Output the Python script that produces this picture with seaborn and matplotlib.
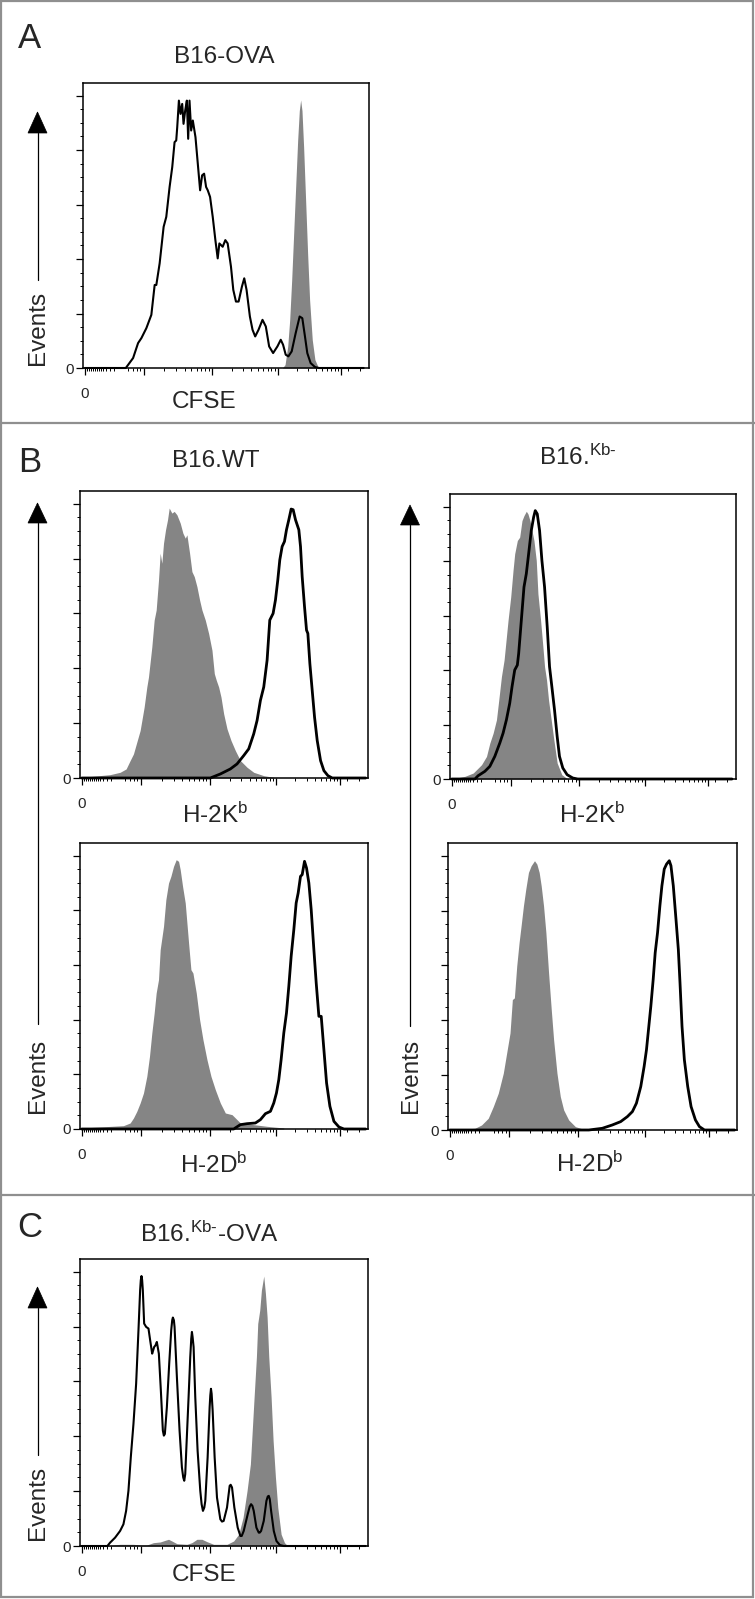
import numpy as np
import seaborn as sns
import matplotlib.pyplot as plt
from matplotlib.patches import Polygon, Rectangle

# ---- data: x = fluorescence channel, y = events ----
# Panel A, B16-OVA (CFSE)
a_black_x = [6, 129, 151, 166, 176, 191, 206, 216, 221, 231, 243, 251, 261, 269, 276, 281, 284, 289, 294,
             299, 303, 308, 313, 317, 321, 326, 331, 339, 346, 353, 359, 365, 371, 376, 383, 391, 399, 406,
             411, 421, 429, 436, 446, 453, 461, 469, 479, 486, 493, 503, 511, 519, 529, 541, 551, 561, 573,
             586, 596, 603, 611, 619, 629, 641, 653, 661, 669, 676, 686, 699, 711, 846]
a_black_y = [0, 0, 30, 75, 90, 120, 160, 250, 250, 315, 425, 455, 545, 605, 680, 685, 725, 805, 765,
             795, 735, 775, 805, 690, 805, 715, 745, 695, 615, 535, 580, 585, 545, 535, 515, 455, 385, 330,
             375, 365, 385, 375, 305, 235, 200, 200, 245, 270, 235, 155, 115, 95, 115, 145, 125, 65, 45,
             65, 85, 70, 40, 35, 50, 105, 155, 150, 95, 45, 15, 3, 0, 0]
a_gray_x = [601, 609, 617, 623, 629, 635, 641, 647, 652, 656, 660, 665, 671, 677, 683, 691, 699, 709, 719]
a_gray_y = [0, 10, 65, 145, 265, 405, 545, 685, 775, 807, 775, 665, 505, 345, 205, 85, 25, 2, 0]

# Panel B, B16.WT, H-2Kb
bwk_gray_x = [5, 90, 120, 138, 150, 160, 170, 180, 192, 200, 205, 215, 222, 228, 235, 240, 245, 250, 256,
              262, 267, 275, 282, 290, 300, 308, 315, 320, 328, 335, 342, 350, 358, 365, 375, 385, 395,
              402, 408, 415, 422, 430, 440, 452, 465, 480, 500, 520, 550, 580]
bwk_gray_y = [2, 10, 17, 27, 52, 72, 107, 142, 212, 272, 302, 392, 472, 502, 592, 672, 642, 702, 742,
              772, 807, 792, 797, 787, 762, 732, 717, 727, 672, 617, 602, 572, 532, 502, 472, 432, 382,
              312, 292, 272, 242, 192, 147, 112, 82, 52, 32, 17, 7, 2]
bwk_black_x = [5, 390, 420, 450, 470, 490, 505, 520, 530, 540, 550, 560, 568, 578, 585, 592, 598, 605, 612,
               618, 625, 632, 638, 645, 655, 660, 665, 672, 678, 682, 688, 695, 702, 710, 720, 730, 742,
               755, 855]
bwk_black_y = [0, 0, 12, 27, 42, 67, 87, 132, 172, 232, 272, 352, 472, 492, 532, 592, 652, 692, 707,
               742, 772, 804, 802, 772, 742, 692, 602, 512, 442, 432, 342, 262, 182, 112, 52, 22, 7, 0, 0]

# Panel B, B16.WT, H-2Db
bwd_gray_x = [5, 130, 150, 160, 170, 180, 190, 200, 208, 215, 222, 228, 235, 240, 250, 257, 265, 272, 280,
              288, 295, 300, 307, 315, 325, 332, 338, 348, 358, 368, 380, 392, 405, 420, 435, 455, 465,
              480, 520, 560, 610]
bwd_gray_y = [3, 10, 18, 33, 53, 78, 108, 158, 218, 288, 348, 408, 448, 538, 608, 688, 738, 758, 788,
              808, 803, 778, 728, 678, 558, 478, 468, 408, 328, 268, 208, 158, 118, 78, 48, 43, 33,
              18, 13, 8, 3]
bwd_black_x = [5, 460, 480, 500, 525, 540, 555, 570, 580, 588, 595, 602, 610, 618, 625, 632, 640, 647, 653,
               660, 665, 672, 678, 685, 692, 700, 707, 715, 722, 730, 738, 748, 760, 775, 790, 855]
bwd_black_y = [0, 0, 13, 16, 18, 28, 46, 53, 78, 108, 148, 208, 288, 348, 428, 518, 598, 678, 708,
               758, 763, 803, 783, 738, 658, 538, 438, 338, 338, 238, 138, 68, 23, 6, 0, 0]

# Panel B, B16.Kb-, H-2Kb
bkk_gray_x = [5, 45, 70, 95, 110, 120, 130, 140, 147, 155, 163, 167, 175, 183, 190, 195, 203, 210, 217,
              223, 230, 235, 241, 247, 253, 260, 265, 273, 280, 285, 291, 297, 305, 313, 323, 337, 355]
bkk_gray_y = [0, 8, 18, 43, 68, 108, 138, 178, 238, 308, 358, 398, 478, 548, 628, 678, 718, 728, 778,
              793, 806, 798, 778, 748, 718, 658, 558, 478, 398, 338, 298, 238, 178, 118, 48, 13, 0]
bkk_black_x = [5, 75, 85, 105, 120, 135, 150, 160, 170, 180, 187, 195, 203, 207, 215, 223, 230, 237, 245,
               252, 257, 263, 270, 277, 285, 293, 300, 307, 315, 323, 330, 340, 353, 370, 385, 850]
bkk_black_y = [0, 0, 10, 23, 38, 68, 108, 138, 178, 228, 278, 328, 343, 378, 478, 578, 618, 678, 748,
               788, 808, 798, 748, 658, 578, 458, 338, 278, 208, 128, 68, 33, 13, 3, 0, 0]

# Panel B, B16.Kb-, H-2Db
bkd_gray_x = [5, 80, 100, 120, 135, 150, 165, 175, 185, 192, 198, 205, 212, 218, 225, 232, 240, 248, 258,
              265, 272, 278, 285, 292, 300, 308, 315, 325, 335, 345, 360, 380, 405, 420]
bkd_gray_y = [0, 5, 15, 35, 70, 110, 170, 230, 290, 390, 395, 490, 560, 610, 670, 720, 770, 790, 805,
              795, 770, 730, 670, 590, 470, 360, 270, 170, 100, 60, 30, 10, 2, 0]
bkd_black_x = [5, 420, 460, 490, 515, 535, 550, 562, 575, 585, 592, 598, 605, 612, 618, 625, 632, 638, 645,
               652, 660, 665, 672, 680, 687, 692, 698, 705, 715, 725, 738, 750, 765, 855]
bkd_black_y = [0, 0, 5, 15, 25, 40, 55, 80, 130, 190, 240, 300, 370, 450, 530, 590, 670, 730, 780,
               795, 805, 790, 730, 630, 540, 440, 310, 210, 130, 70, 30, 10, 0, 0]

# Panel C, B16.Kb--OVA (CFSE)
c_black_x = [5, 82, 90, 105, 120, 130, 138, 145, 152, 160, 168, 175, 180, 182, 184, 186, 188, 192, 198,
             205, 210, 216, 219, 222, 226, 230, 236, 242, 248, 251, 254, 260, 267, 273, 276, 278, 281,
             283, 290, 298, 305, 309, 312, 315, 318, 325, 330, 333, 335, 337, 340, 345, 352, 360, 364,
             368, 372, 375, 382, 388, 390, 392, 394, 397, 403, 410, 420, 425, 430, 440, 448, 451, 455,
             462, 472, 480, 484, 490, 502, 508, 512, 516, 520, 528, 535, 538, 542, 550, 558, 562, 565,
             568, 572, 580, 588, 598, 610, 855]
c_black_y = [0, 0, 10, 25, 45, 65, 105, 165, 265, 365, 485, 645, 765, 795, 807, 795, 765, 665, 655,
             650, 615, 575, 585, 595, 600, 610, 575, 465, 345, 330, 335, 415, 545, 645, 675, 683, 675,
             655, 505, 345, 235, 205, 195, 215, 285, 445, 565, 620, 640, 625, 595, 445, 285, 165, 125,
             105, 115, 135, 265, 415, 450, 470, 455, 405, 265, 145, 80, 73, 75, 115, 180, 183, 175,
             115, 55, 30, 30, 45, 95, 118, 125, 120, 105, 55, 40, 40, 45, 75, 135, 148, 150,
             140, 105, 45, 15, 3, 0, 0]
c_gray_x = [5, 90, 120, 160, 180, 200, 220, 240, 255, 265, 275, 290, 320, 335, 350, 365, 380, 400, 440,
            460, 475, 488, 500, 510, 520, 528, 532, 538, 543, 550, 555, 560, 565, 572, 578, 585, 592,
            602, 612, 622]
c_gray_y = [0, 2, 5, 5, 3, 3, 10, 12, 17, 20, 15, 7, 5, 10, 20, 20, 13, 5, 5,
            15, 35, 85, 165, 245, 425, 565, 665, 705, 765, 807, 755, 685, 565, 445, 315, 205, 115,
            35, 10, 0]

x_major = [5, 183, 388, 587, 778]
x_major_labels = ['0', '', '', '', '']

GRAY = '#858585'
FRAME = '#8f8f8f'
W, H = 755, 1599
FS = 17.5

sns.set_style('white')
plt.rcParams['font.family'] = ['Liberation Sans', 'DejaVu Sans']
plt.rcParams['mathtext.fontset'] = 'custom'
plt.rcParams['mathtext.rm'] = 'Liberation Sans'
plt.rcParams['mathtext.it'] = 'Liberation Sans:italic'

fig = plt.figure(figsize=(W / 100, H / 100), dpi=100)

# overlay in pixel coordinates for frame, arrows and labels
over = fig.add_axes([0, 0, 1, 1])
over.set_xlim(0, W)
over.set_ylim(H, 0)
over.axis('off')


def add_axes_px(left, top, right, bottom):
    return fig.add_axes([left / W, 1 - bottom / H, (right - left) / W, (bottom - top) / H])


def minor_x():
    ticks = [12, 18, 24, 30, 36, 42, 48, 54, 60, 68, 80, 92, 136, 150, 162, 172]
    for a, b in zip(x_major[1:-1], x_major[2:]):
        ticks += [a + np.log10(m) * (b - a) for m in range(2, 10)]
    ticks += [800, 835]
    return ticks


def style(ax):
    ax.set_xlim(0, 862)
    ax.set_ylim(0, 858)
    ax.set_xticks(x_major)
    ax.set_xticklabels(x_major_labels)
    ax.set_xticks(minor_x(), minor=True)
    ax.set_yticks(np.arange(0, 821, 164))
    ax.set_yticklabels(['0', '', '', '', '', ''])
    ax.set_yticks(np.arange(0, 821, 41), minor=True)
    ax.tick_params(which='both', bottom=True, left=True, direction='out', color='black')
    ax.tick_params(which='major', length=5, width=0.9, labelsize=11)
    ax.tick_params(which='minor', length=2.5, width=0.7)
    ax.tick_params(axis='x', which='major', pad=9)
    ax.tick_params(axis='y', which='major', pad=1.5)
    for s in ax.spines.values():
        s.set_color('black')
        s.set_linewidth(1.1)
    ax.set_xlabel('')
    ax.set_ylabel('')


def histo(ax, gx, gy, bx, by, lw):
    ax.fill_between(gx, gy, 0, color=GRAY, lw=0, zorder=2)
    sns.lineplot(x=bx, y=by, ax=ax, color='black', lw=lw, estimator=None, sort=False, zorder=3)
    for ln in ax.lines:
        ln.set_clip_on(False)
        ln.set_solid_joinstyle('round')
    style(ax)


axA = add_axes_px(83, 83, 369, 368)
histo(axA, a_gray_x, a_gray_y, a_black_x, a_black_y, 1.5)

axB1 = add_axes_px(80, 491, 368, 778)
histo(axB1, bwk_gray_x, bwk_gray_y, bwk_black_x, bwk_black_y, 2.0)
axB2 = add_axes_px(80, 843, 368, 1129)
histo(axB2, bwd_gray_x, bwd_gray_y, bwd_black_x, bwd_black_y, 2.0)
axB3 = add_axes_px(450, 494, 736, 779)
histo(axB3, bkk_gray_x, bkk_gray_y, bkk_black_x, bkk_black_y, 2.0)
axB4 = add_axes_px(448, 843, 737, 1130)
histo(axB4, bkd_gray_x, bkd_gray_y, bkd_black_x, bkd_black_y, 2.0)

axC = add_axes_px(80, 1259, 368, 1546)
histo(axC, c_gray_x, c_gray_y, c_black_x, c_black_y, 1.5)

# frame and section separators
over.add_patch(Rectangle((1, 1), W - 3, H - 3, fill=False, ec=FRAME, lw=1.6))
for yy in (423, 1195):
    over.plot([0, W], [yy, yy], color=FRAME, lw=1.6)

# panel letters
for letter, yb in (('A', 48), ('B', 472), ('C', 1237)):
    over.text(30, yb, letter, fontsize=25, ha='center', va='baseline')

# titles
over.text(224, 63, 'B16-OVA', fontsize=FS, ha='center', va='baseline')
over.text(216, 467, 'B16.WT', fontsize=FS, ha='center', va='baseline')
over.text(578, 465, r'B16.$^{\mathrm{Kb}\text{-}}$', fontsize=FS, ha='center', va='baseline')
over.text(209, 1242, r'B16.$^{\mathrm{Kb}\text{-}}$-OVA', fontsize=FS, ha='center', va='baseline')

# axis names
over.text(204, 408, 'CFSE', fontsize=FS, ha='center', va='baseline')
over.text(204, 1581, 'CFSE', fontsize=FS, ha='center', va='baseline')
over.text(215, 823, r'H-2K$^{\mathrm{b}}$', fontsize=FS, ha='center', va='baseline')
over.text(592, 823, r'H-2K$^{\mathrm{b}}$', fontsize=FS, ha='center', va='baseline')
over.text(214, 1173, r'H-2D$^{\mathrm{b}}$', fontsize=FS, ha='center', va='baseline')
over.text(590, 1172, r'H-2D$^{\mathrm{b}}$', fontsize=FS, ha='center', va='baseline')

# Events arrows
for ax_x, tip, base, end, ty in ((37.5, 112, 133, 280, 328), (37.5, 503, 523, 1024, 1076),
                                 (410, 505, 525, 1026, 1076), (37.5, 1287, 1308, 1455, 1503)):
    over.add_patch(Polygon([(ax_x, tip), (ax_x - 9.5, base), (ax_x + 9.5, base)], closed=True,
                           fc='black', ec='black', lw=0.5))
    over.plot([ax_x, ax_x], [base, end], color='black', lw=0.9)
    over.text(ax_x + 1, ty, 'Events', fontsize=FS, rotation=90, ha='center', va='center')

fig.savefig('out.png', dpi=100)
